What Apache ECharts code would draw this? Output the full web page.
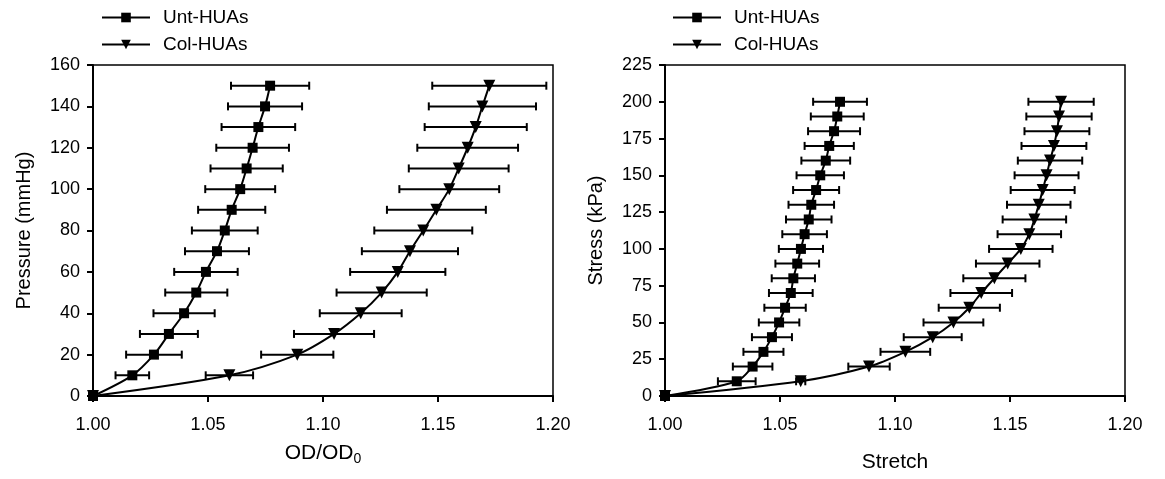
<!DOCTYPE html>
<html>
<head>
<meta charset="utf-8">
<script src="https://cdn.jsdelivr.net/npm/echarts@6/dist/echarts.min.js"></script>
<style>
  html, body { margin: 0; padding: 0; background: #fff; }
  #chart { width: 1165px; height: 479px; }
</style>
</head>
<body>
<div id="chart"></div>
<script>
// left panel: pressure vs OD/OD0
let pressure = [0, 10, 20, 30, 40, 50, 60, 70, 80, 90, 100, 110, 120, 130, 140, 150];
let unt_od = [1.000, 1.0171, 1.0265, 1.0330, 1.0396, 1.0449, 1.0491, 1.0539, 1.0573, 1.0603, 1.0640, 1.0668, 1.0694, 1.0719, 1.0748, 1.0770];
let unt_od_sd = [0, 0.0073, 0.0121, 0.0126, 0.0133, 0.0135, 0.0138, 0.0139, 0.0143, 0.0146, 0.0152, 0.0157, 0.0158, 0.0160, 0.0161, 0.0170];
let col_od = [1.000, 1.0593, 1.0888, 1.1048, 1.1164, 1.1255, 1.1325, 1.1378, 1.1436, 1.1493, 1.1549, 1.1590, 1.1629, 1.1664, 1.1693, 1.1723];
let col_od_sd = [0, 0.0103, 0.0157, 0.0174, 0.0178, 0.0196, 0.0207, 0.0209, 0.0213, 0.0215, 0.0217, 0.0217, 0.0219, 0.0222, 0.0233, 0.0248];

// right panel: stress vs stretch
let stress = [0, 10, 20, 30, 40, 50, 60, 70, 80, 90, 100, 110, 120, 130, 140, 150, 160, 170, 180, 190, 200];
let unt_stretch = [1.000, 1.0312, 1.0381, 1.0428, 1.0465, 1.0496, 1.0522, 1.0547, 1.0558, 1.0575, 1.0591, 1.0607, 1.0625, 1.0636, 1.0657, 1.0675, 1.0699, 1.0714, 1.0735, 1.0749, 1.0761];
let unt_stretch_sd = [0, 0.0082, 0.0086, 0.0087, 0.0087, 0.0088, 0.0090, 0.0095, 0.0094, 0.0095, 0.0096, 0.0097, 0.0099, 0.0099, 0.0100, 0.0103, 0.0106, 0.0107, 0.0113, 0.0115, 0.0117];
let col_stretch = [1.000, 1.0590, 1.0887, 1.1045, 1.1164, 1.1254, 1.1323, 1.1375, 1.1432, 1.1490, 1.1547, 1.1584, 1.1606, 1.1625, 1.1642, 1.1659, 1.1674, 1.1691, 1.1704, 1.1713, 1.1722];
let col_stretch_sd = [0, 0.0020, 0.0090, 0.0108, 0.0126, 0.0130, 0.0133, 0.0134, 0.0135, 0.0138, 0.0138, 0.0138, 0.0138, 0.0138, 0.0139, 0.0139, 0.0140, 0.0141, 0.0141, 0.0142, 0.0142];

let x_ticks = [1.00, 1.05, 1.10, 1.15, 1.20];
let series_names = ['Unt-HUAs', 'Col-HUAs'];

let font = 'Liberation Sans, Arial, sans-serif';
let chart = echarts.init(document.getElementById('chart'));

function pairs(xs, ys) {
    return xs.map(function (x, i) { return [x, ys[i]]; });
}

function triples(xs, ys, sd) {
    return xs.map(function (x, i) { return [x, ys[i], sd[i]]; });
}

/* Horizontal error bar with end caps. */
function render_error_bar(params, api) {
    let sd = api.value(2);
    if (!sd) {
        return null;
    }
    let y = api.value(1);
    let x = api.value(0);
    let lo = api.coord([x - sd, y]);
    let hi = api.coord([x + sd, y]);
    let cap = 4;
    let style = { stroke: '#000', lineWidth: 2 };
    return {
        type: 'group',
        children: [
            { type: 'line', shape: { x1: lo[0], y1: lo[1], x2: hi[0], y2: hi[1] }, style: style },
            { type: 'line', shape: { x1: lo[0], y1: lo[1] - cap, x2: lo[0], y2: lo[1] + cap }, style: style },
            { type: 'line', shape: { x1: hi[0], y1: hi[1] - cap, x2: hi[0], y2: hi[1] + cap }, style: style }
        ]
    };
}

function x_axis(grid_index, name, gap) {
    return {
        type: 'value',
        gridIndex: grid_index,
        min: x_ticks[0],
        max: x_ticks[x_ticks.length - 1],
        interval: 0.05,
        name: name,
        nameLocation: 'middle',
        nameGap: gap,
        nameTextStyle: {
            color: '#000', fontFamily: font, fontSize: 21,
            rich: {
                a: { color: '#000', fontFamily: font, fontSize: 21 },
                sub: { color: '#000', fontFamily: font, fontSize: 14, padding: [12, 0, 0, 0] }
            }
        },
        axisLine: { show: true, onZero: false, lineStyle: { color: '#000', width: 2 } },
        axisTick: { show: true, inside: false, length: 6, lineStyle: { color: '#000', width: 2 } },
        axisLabel: {
            color: '#000', fontFamily: font, fontSize: 18, margin: 20,
            formatter: function (v) { return v.toFixed(2); }
        },
        splitLine: { show: false }
    };
}

function y_axis(grid_index, name, max, interval) {
    return {
        type: 'value',
        gridIndex: grid_index,
        min: 0,
        max: max,
        interval: interval,
        name: name,
        nameLocation: 'middle',
        nameGap: 59,
        nameTextStyle: { color: '#000', fontFamily: font, fontSize: 20 },
        axisLine: { show: true, onZero: false, lineStyle: { color: '#000', width: 2 } },
        axisTick: { show: true, inside: false, length: 6, lineStyle: { color: '#000', width: 2 } },
        axisLabel: { color: '#000', fontFamily: font, fontSize: 18, margin: 13 },
        splitLine: { show: false }
    };
}

function line_series(name, index, data, symbol) {
    return {
        name: name,
        type: 'line',
        xAxisIndex: index,
        yAxisIndex: index,
        data: data,
        smooth: 0.3,
        symbol: symbol,
        symbolRotate: symbol === 'triangle' ? 180 : 0,
        symbolSize: symbol === 'triangle' ? 12 : 10,
        itemStyle: { color: '#000', borderWidth: 0 },
        lineStyle: { color: '#000', width: 2 },
        z: 3
    };
}

function error_series(index, data) {
    return {
        type: 'custom',
        xAxisIndex: index,
        yAxisIndex: index,
        renderItem: render_error_bar,
        encode: { x: 0, y: 1 },
        data: data,
        silent: true,
        z: 2
    };
}

function legend(left) {
    return {
        data: series_names,
        orient: 'vertical',
        left: left,
        top: 3,
        itemWidth: 48,
        itemHeight: 12,
        itemGap: 8,
        textStyle: { color: '#000', fontFamily: font, fontSize: 19, padding: [0, 0, 0, 8] }
    };
}

let echarts_options = {
    backgroundColor: '#fff',
    animation: false,
    legend: [legend(96), legend(667)],
    grid: [
        { left: 93, right: 612, top: 65, bottom: 83, show: true, borderColor: '#000', borderWidth: 1.5, backgroundColor: 'transparent' },
        { left: 665, right: 40, top: 65, bottom: 83, show: true, borderColor: '#000', borderWidth: 1.5, backgroundColor: 'transparent' }
    ],
    xAxis: [
        x_axis(0, '{a|OD/OD}{sub|0}', 44),
        x_axis(1, 'Stretch', 56)
    ],
    yAxis: [
        y_axis(0, 'Pressure (mmHg)', 160, 20),
        y_axis(1, 'Stress (kPa)', 225, 25)
    ],
    series: [
        error_series(0, triples(unt_od, pressure, unt_od_sd)),
        error_series(0, triples(col_od, pressure, col_od_sd)),
        line_series(series_names[0], 0, pairs(unt_od, pressure), 'rect'),
        line_series(series_names[1], 0, pairs(col_od, pressure), 'triangle'),
        error_series(1, triples(unt_stretch, stress, unt_stretch_sd)),
        error_series(1, triples(col_stretch, stress, col_stretch_sd)),
        line_series(series_names[0], 1, pairs(unt_stretch, stress), 'rect'),
        line_series(series_names[1], 1, pairs(col_stretch, stress), 'triangle')
    ]
};

chart.setOption(echarts_options);
</script>
</body>
</html>
